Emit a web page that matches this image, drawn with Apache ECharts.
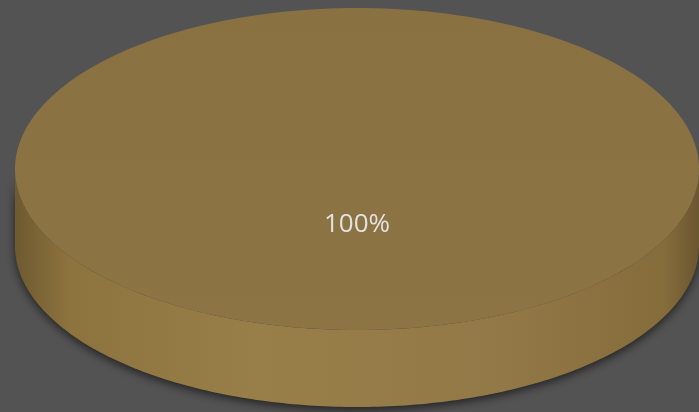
<!DOCTYPE html>
<html>
<head>
<meta charset="utf-8">
<script src="https://cdn.jsdelivr.net/npm/echarts@6/dist/echarts.min.js"></script>
<style>
html,body{margin:0;padding:0;background:#535353;}
#chart{width:699px;height:412px;}
</style>
</head>
<body>
<div id="chart"></div>
<script>
var categories = ['A'];
var values = [100];
var colors = ['#8c7444'];

var chart = echarts.init(document.getElementById('chart'));
var total = values.reduce(function(a,b){return a+b;},0);
var starts = [];
var acc = 0;
values.forEach(function(v){ starts.push(acc); acc += v; });

function ellPts(cx, cy, rx, ry, a0, a1, n) {
  var pts = [];
  for (var i = 0; i <= n; i++) {
    var a = a0 + (a1 - a0) * i / n;
    pts.push([cx + rx * Math.cos(a), cy + ry * Math.sin(a)]);
  }
  return pts;
}

chart.setOption({
  backgroundColor: '#535353',
  animation: false,
  series: [{
    type: 'custom',
    coordinateSystem: 'none',
    data: values.map(function(v, i){ return [v, i]; }),
    renderItem: function(params, api) {
      var v = api.value(0);
      var idx = api.value(1);
      var cx = 357, cy = 169, rx = 342, ry = 161, h = 77;
      var a0 = -Math.PI / 2 + 2 * Math.PI * starts[idx] / total;
      var a1 = a0 + 2 * Math.PI * v / total;
      var full = v >= total;
      var top = ellPts(cx, cy, rx, ry, a0, a1, 240);
      if (!full) top.unshift([cx, cy]);
      var s0 = Math.max(a0, 0), s1 = Math.min(a1, Math.PI);
      if (full) { s0 = 0; s1 = Math.PI; }
      var children = [];
      if (s1 > s0) {
        var front = ellPts(cx, cy, rx, ry, s0, s1, 200);
        var back = ellPts(cx, cy + h, rx, ry, s0, s1, 200).reverse();
        children.push({
          type: 'polygon',
          shape: { points: front.concat(back) },
          style: {
            fill: new echarts.graphic.LinearGradient(0, 0, 1, 0, [
              { offset: 0, color: '#6e5a30' },
              { offset: 0.08, color: '#8d733e' },
              { offset: 0.35, color: '#987e48' },
              { offset: 0.7, color: '#937947' },
              { offset: 0.95, color: '#856c3b' },
              { offset: 1, color: '#6a5630' }
            ]),
            shadowBlur: 10,
            shadowColor: 'rgba(0,0,0,0.6)',
            shadowOffsetY: 3
          }
        });
      }
      children.push({
        type: 'polygon',
        shape: { points: top },
        style: {
          fill: new echarts.graphic.LinearGradient(0, 0, 0, 1, [
            { offset: 0, color: '#8a7141' },
            { offset: 1, color: colors[idx] }
          ])
        }
      });
      var mid = (a0 + a1) / 2;
      var lx = full ? cx : cx + rx * 0.6 * Math.cos(mid);
      var ly = full ? cy + 56 : cy + ry * 0.6 * Math.sin(mid);
      children.push({
        type: 'text',
        style: {
          x: lx, y: ly,
          text: Math.round(v / total * 100) + '%',
          fill: '#e2e2e2',
          font: '26px "Open Sans", sans-serif',
          align: 'center',
          verticalAlign: 'middle'
        }
      });
      return { type: 'group', children: children };
    }
  }]
});
</script>
</body>
</html>
